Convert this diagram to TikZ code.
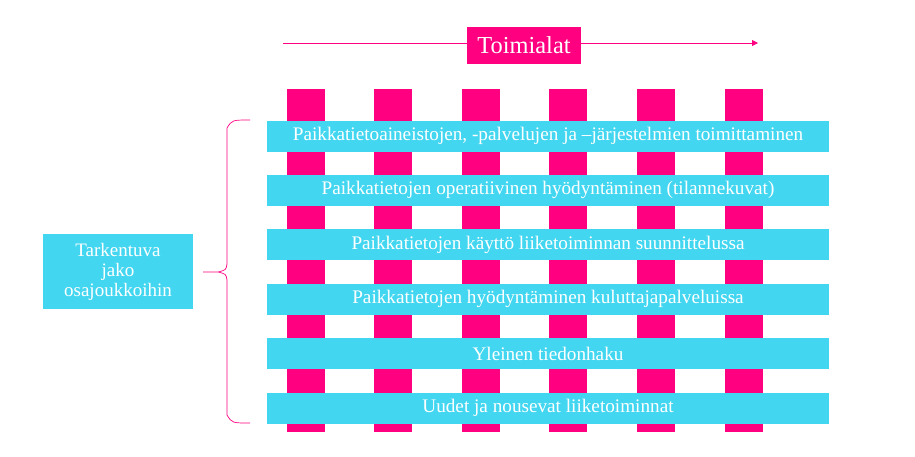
\documentclass[tikz,border=0pt]{standalone}
\usepackage{fontspec}
\setmainfont{Liberation Serif}
\usetikzlibrary{arrows.meta}
\definecolor{mypink}{RGB}{255,0,128}
\definecolor{mycyan}{RGB}{66,214,240}
\begin{document}
\begin{tikzpicture}[x=1pt,y=-1pt,
  col/.style={fill=mypink,draw=none,minimum width=38pt,minimum height=343pt,inner sep=0pt},
  bar/.style={fill=mycyan,draw=none,minimum width=562pt,minimum height=31pt,inner sep=0pt,text=white,font=\fontsize{19.2}{22}\selectfont},
  lbox/.style={fill=mycyan,draw=none,minimum width=150pt,minimum height=75pt,inner sep=0pt,text=white,align=center,font=\fontsize{19}{20}\selectfont},
  tbox/.style={fill=mypink,draw=none,minimum width=114pt,minimum height=37pt,inner sep=0pt,text=white,font=\fontsize{24.4}{26}\selectfont},
  pinkline/.style={draw=mypink,line width=0.8pt}]
\useasboundingbox (0,0) rectangle (915,456);
\foreach \i in {0,...,5}{
  \node[col] (c\i) at (305.5+87.6*\i,260.5) {};
}
\node[bar] (b1) at (548,136) {Paikkatietoaineistojen, -palvelujen ja –järjestelmien toimittaminen};
\node[bar] (b2) at (548,190.4) {Paikkatietojen operatiivinen hyödyntäminen (tilannekuvat)};
\node[bar] (b3) at (548,244.8) {Paikkatietojen käyttö liiketoiminnan suunnittelussa};
\node[bar] (b4) at (548,299.2) {Paikkatietojen hyödyntäminen kuluttajapalveluissa};
\node[bar] (b5) at (548,353.6) {Yleinen tiedonhaku};
\node[bar] (b6) at (548,408) {Uudet ja nousevat liiketoiminnat};
\node[tbox] (toim) at (524,45.5) {Toimialat};
\coordinate (ls) at (283,43);
\coordinate (le) at (758,43);
\draw[pinkline] (ls) -- (ls -| toim.west);
\draw[pinkline,-{Triangle[length=6pt,width=6pt]}] (le -| toim.east) -- (le);
\node[lbox] (left) at (118,271.5) {Tarkentuva\\jako\\osajoukkoihin};
\draw[pinkline,line width=0.7pt] (250,120) .. controls (232,120) .. (227,128) -- (227,264)
  .. controls (226,270) .. (218,272) -- (203,272) -- (218,272)
  .. controls (226,274) .. (227,280) -- (227,415) .. controls (232,423) .. (250,423);
\end{tikzpicture}
\end{document}
